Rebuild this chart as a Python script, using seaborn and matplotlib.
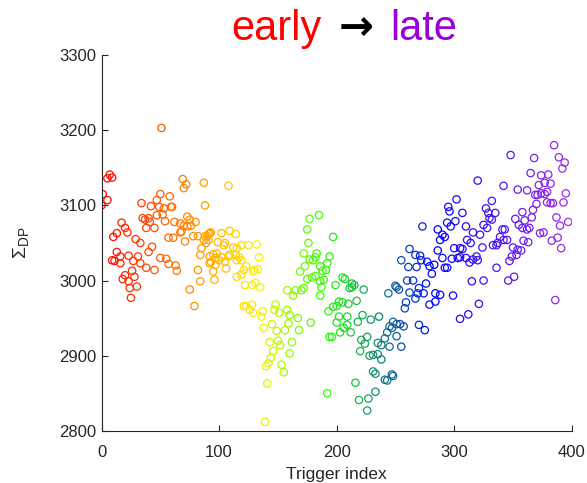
import matplotlib
matplotlib.use("Agg")
import matplotlib.pyplot as plt
from matplotlib.colors import LinearSegmentedColormap
import numpy as np
import pandas as pd
import seaborn as sns

# Trigger index and summed DP amplitude for each trigger
trigger_index = [
    0, 1, 5, 5, 7, 9, 34, 50, 51, 58, 47, 42, 49, 53, 59, 60, 62, 47, 52, 35, 37, 40, 41, 38, 45, 54,
    17, 20, 22, 13, 10, 29, 33, 57, 61, 43, 40, 13, 16, 9, 11, 16, 23, 27, 31, 33, 38, 45, 50, 55,
    57, 63, 64, 26, 20, 28, 18, 23, 30, 24, 25,
    69, 72, 70, 87, 108, 88, 73, 75, 80, 76, 73, 67, 70, 68, 71, 78, 82, 88, 91, 87, 67, 92,
    90, 92, 93, 91, 89, 85, 84, 102, 109, 114, 99, 104, 105, 95, 98, 92, 97, 93, 97, 100, 102,
    105, 108, 109, 114, 115, 117, 119, 112, 115, 119, 125, 106, 123, 121, 129, 82, 95, 84, 96,
    115, 119, 122, 128, 75, 79, 121, 123, 128, 126, 129,
    132, 134, 130, 133, 131, 135, 137, 136, 138, 139, 141, 140, 142, 144, 146, 143, 152, 150,
    153, 155, 160, 162, 168, 178, 167, 160, 158, 151, 148, 147, 145, 149, 156, 159, 158, 163,
    165, 170, 172, 169, 173, 177, 172, 183, 182, 180, 186, 188, 191, 192, 194, 176, 175, 177,
    185, 175, 179, 182, 186, 189, 187, 186, 193, 192, 194,
    197, 199, 205, 207, 213, 215, 211, 213, 223, 202, 205, 200, 197, 210, 217, 202, 209, 200,
    209, 206, 203, 212, 196, 218, 222, 229, 236, 216, 219, 227, 233, 226, 221, 224, 226, 220,
    228, 231, 235, 238, 231, 233, 241, 243, 247, 248, 235, 238, 241, 243, 245, 247, 248, 251,
    254, 257, 251, 245, 255, 244, 250, 251, 255,
    273, 286, 262, 267, 271, 272, 277, 279, 283, 286, 261, 268, 260, 265, 276, 270, 262, 269,
    274, 284, 288, 253, 259, 258, 267, 279, 284, 270, 275,
    320, 302, 295, 296, 307, 294, 297, 301, 310, 290, 292, 288, 327, 329, 325, 328, 322, 316,
    311, 314, 324, 300, 305, 307, 290, 298, 303, 305, 310, 313, 316, 319, 320, 292, 294, 281,
    299, 315, 325, 321, 312, 305,
    385, 348, 368, 389, 394, 392, 365, 374, 380, 377, 382, 372, 342, 354, 362, 369, 371, 374,
    377, 379, 395, 332, 379, 382, 384, 393, 370, 367, 358, 366, 352, 360, 355, 358, 362, 364,
    335, 332, 330, 387, 397, 390, 341, 343, 339, 342, 345, 337, 333, 336, 373, 376, 388, 383,
    359, 363, 391, 350, 354, 357, 353, 349, 347, 336, 351, 346, 386,
]

sigma_dp = [
    3100, 3115, 3107, 3136, 3141, 3137, 3103, 3115, 3203, 3112, 3107, 3099, 3098, 3096, 3098, 3098,
    3078, 3087, 3088, 3083, 3081, 3083, 3078, 3070, 3070, 3079,
    3077, 3070, 3064, 3063, 3058, 3055, 3050, 3057, 3057, 3045, 3038, 3038, 3032, 3027, 3026, 3023,
    3033, 3026, 3032, 3023, 3017, 3014, 3030, 3029, 3022, 3020, 3013, 3013, 3007, 3005, 3002, 2999,
    2992, 2990, 2977,
    3135, 3128, 3123, 3130, 3126, 3100, 3085, 3081, 3078, 3073, 3072, 3076, 3073, 3065, 3052, 3059,
    3059, 3059, 3062, 3054, 3064, 3023,
    3059, 3063, 3064, 3054, 3050, 3043, 3034, 3063, 3066, 3062, 3051, 3047, 3050, 3035, 3036, 3032,
    3030, 3025, 3021, 3027, 3031, 3025, 3032, 3034, 3034, 3027, 3031, 3027, 3044, 3043, 3047, 3047,
    3016, 3019, 3014, 3012, 3014, 3012, 2999, 3001, 3005, 3008, 2994, 2994, 2988, 2966, 2966, 2966,
    2968, 2961, 2957,
    3048, 3031, 3014, 3015, 2997, 2991, 2959, 2952, 2937, 2812, 2863, 2886, 2890, 2897, 2906, 2918,
    2914, 2920, 2888, 2878, 2903, 2918, 2934, 2944, 2950, 2954, 2961, 2957, 2968, 2961, 2942, 2933,
    2934, 2943, 2987, 2980, 2987, 2987, 2990, 3012, 3019, 3028, 3036, 3036, 3031, 3027, 3019, 3013,
    3014, 3023, 3032, 3050, 3068, 3082, 3087, 3002, 3004, 3006, 2999, 3001, 2991, 2980, 2959, 2850,
    2925,
    3058, 2994, 3004, 3002, 2996, 2994, 2990, 2991, 2988, 2972, 2971, 2966, 2965, 2969, 2973, 2952,
    2952, 2944, 2941, 2937, 2931, 2931, 2925, 2945, 2954, 2948, 2952, 2864, 2841, 2843, 2852, 2827,
    2921, 2916, 2925, 2906, 2900, 2901, 2902, 2895, 2879, 2876, 2868, 2867, 2875, 2873, 2917, 2914,
    2923, 2931, 2939, 2937, 2945, 2942, 2942, 2939, 2926, 2912, 2912, 2983, 2993, 2991, 3027,
    3072, 3068, 3042, 3034, 3033, 3027, 3025, 3019, 3021, 3040, 3018, 3018, 3000, 3000, 2996, 2990,
    2984, 2983, 2983, 2983, 2981, 2988, 2971, 2963, 2976, 2968, 2972, 2941, 2934,
    3133, 3108, 3098, 3092, 3090, 3077, 3072, 3079, 3072, 3061, 3058, 3054, 3096, 3090, 3074, 3070,
    3061, 3064, 3054, 3050, 3044, 3043, 3043, 3042, 3030, 3029, 3030, 3031, 3030, 3024, 3028, 3032,
    3027, 3017, 3017, 3009, 2980, 2999, 3000, 2969, 2955, 2949,
    3180, 3167, 3163, 3164, 3157, 3149, 3143, 3140, 3141, 3130, 3129, 3127, 3126, 3121, 3120, 3114,
    3114, 3116, 3115, 3118, 3116, 3106, 3104, 3103, 3103, 3104, 3102, 3094, 3091, 3084, 3082, 3080,
    3074, 3070, 3068, 3070, 3090, 3081, 3083, 3084, 3078, 3073, 3068, 3068, 3058, 3054, 3054, 3050,
    3047, 3047, 3063, 3064, 3057, 3053, 3053, 3051, 3043, 3044, 3041, 3040, 3034, 3032, 3026, 3017,
    3005, 3000, 2974,
]

x_ticks = [0, 100, 200, 300, 400]
y_ticks = [2800, 2900, 3000, 3100, 3200, 3300]

df = pd.DataFrame({"trigger": trigger_index, "sigma": sigma_dp})

# red -> yellow -> green -> blue -> violet, early to late
rainbow = LinearSegmentedColormap.from_list(
    "early_late",
    [(0.00, (1.0, 0.0, 0.0)),
     (0.33, (1.0, 0.95, 0.0)),
     (0.48, (0.15, 1.0, 0.0)),
     (0.71, (0.0, 0.0, 1.0)),
     (1.00, (0.64, 0.18, 0.90))],
)

sns.set_theme(style="ticks")
plt.rcParams["font.family"] = ["Liberation Sans", "DejaVu Sans"]
plt.rcParams["mathtext.fontset"] = "custom"
plt.rcParams["mathtext.rm"] = "Liberation Sans"
plt.rcParams["mathtext.it"] = "Liberation Sans:italic"

fig = plt.figure(figsize=(5.87, 4.83), dpi=100)
ax = fig.add_axes([0.173, 0.108, 0.801, 0.778])

sns.scatterplot(
    data=df, x="trigger", y="sigma", hue="trigger", palette=rainbow,
    hue_norm=(0, 400), legend=False, ax=ax, s=28, linewidth=0.9,
)
coll = ax.collections[0]
coll.set_edgecolors(coll.get_facecolors())
coll.set_facecolors("none")

ax.set_xlim(0, 400)
ax.set_ylim(2800, 3300)
ax.set_xticks(x_ticks)
ax.set_yticks(y_ticks)
ax.tick_params(axis="both", direction="in", length=4, width=0.8,
               colors="#262626", labelsize=12)
ax.tick_params(axis="x", pad=10)
ax.tick_params(axis="y", pad=4)
for side in ("left", "bottom"):
    ax.spines[side].set_color("#262626")
    ax.spines[side].set_linewidth(0.8)
sns.despine(ax=ax)

ax.set_xlabel("Trigger index", fontsize=12.5, color="#262626", labelpad=5)
ax.set_ylabel(r"$\Sigma_{\rm DP}$", fontsize=14, color="#262626", labelpad=20)

# Colored title: early -> late
ty = 0.917
fig.text(0.547, ty, "early", color="#ff0000", fontsize=30, ha="right", va="baseline")
fig.text(0.606, ty, "\u2192", color="black", fontsize=30, ha="center", va="baseline",
         family=["DejaVu Sans"], fontweight="bold")
fig.text(0.664, ty, "late", color="#9b00d8", fontsize=30, ha="left", va="baseline")

fig.savefig("out.png", dpi=100)
